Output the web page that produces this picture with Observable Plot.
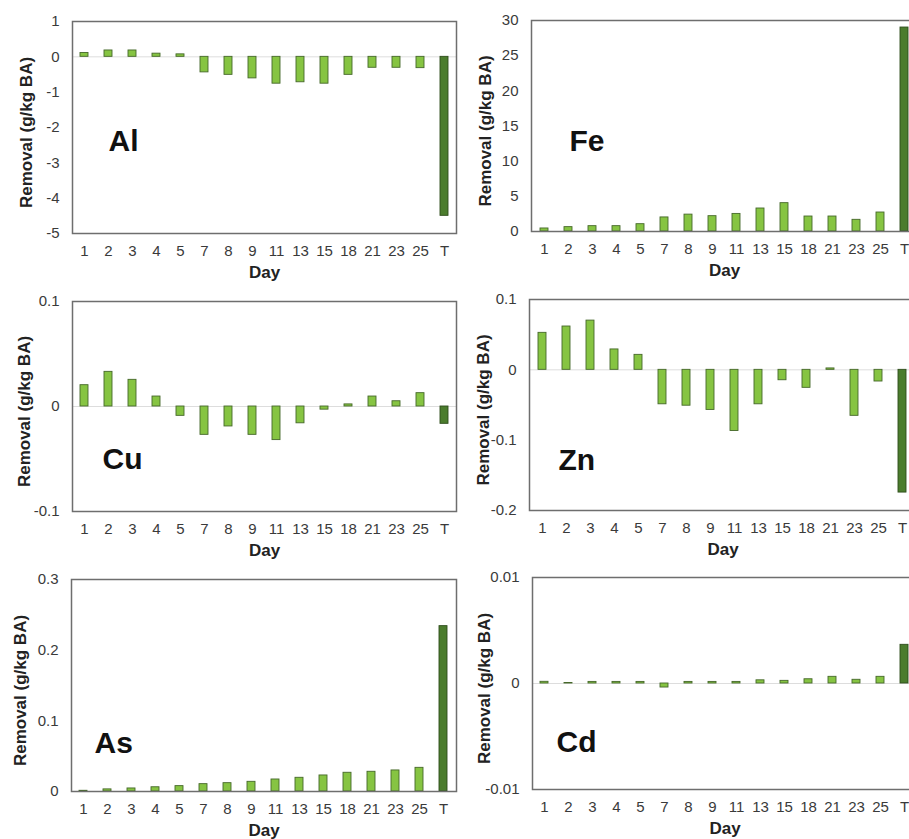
<!DOCTYPE html>
<html><head><meta charset="utf-8">
<script src="https://cdn.jsdelivr.net/npm/d3@7"></script>
<script src="https://cdn.jsdelivr.net/npm/@observablehq/plot@0.6"></script>
<style>
html,body{margin:0;padding:0;background:#fff;overflow:hidden;width:909px;height:839px;}
#root{position:relative;width:909px;height:839px;overflow:hidden;}
#root svg{position:absolute;overflow:visible;}
</style></head><body><div id="root"></div>
<script>
// ---- data ----
const days = ["1","2","3","4","5","7","8","9","11","13","15","18","21","23","25","T"];
const alValues = [0.11,0.18,0.18,0.09,0.07,-0.44,-0.51,-0.61,-0.76,-0.72,-0.76,-0.51,-0.31,-0.31,-0.32,-4.5];
const feValues = [0.43,0.62,0.76,0.76,1.04,2.0,2.4,2.18,2.5,3.27,4.03,2.13,2.13,1.66,2.7,29.0];
const cuValues = [0.0203,0.033,0.0254,0.0095,-0.0089,-0.027,-0.019,-0.027,-0.032,-0.016,-0.003,0.002,0.0095,0.005,0.0127,-0.0165];
const znValues = [0.0526,0.0616,0.070,0.029,0.0213,-0.049,-0.051,-0.057,-0.087,-0.049,-0.0148,-0.0256,0.002,-0.0654,-0.0166,-0.1745];
const asValues = [0.001,0.003,0.0043,0.006,0.0076,0.0104,0.0118,0.0137,0.017,0.0194,0.0227,0.0265,0.0279,0.0298,0.0335,0.234];
const cdValues = [0.00016,0.00005,0.00015,0.00015,0.00015,-0.00038,0.00015,0.00015,0.00015,0.0003,0.00025,0.0004,0.00063,0.00035,0.00063,0.00365];

const alTicks = [-5,-4,-3,-2,-1,0,1];
const feTicks = [0,5,10,15,20,25,30];
const cuTicks = [-0.1,0,0.1];
const znTicks = [-0.2,-0.1,0,0.1];
const asTicks = [0,0.1,0.2,0.3];
const cdTicks = [-0.01,0,0.01];

const elements = ["Al","Fe","Cu","Zn","As","Cd"];
const xLabel = "Day";
const yLabel = "Removal (g/kg BA)";

// ---- layout ----
const series = {Al: alValues, Fe: feValues, Cu: cuValues, Zn: znValues, As: asValues, Cd: cdValues};
const ticks = {Al: alTicks, Fe: feTicks, Cu: cuTicks, Zn: znTicks, As: asTicks, Cd: cdTicks};
const layout = {
  Al: {left:0,   top:0,   width:460, ml:72, mt:21, mb:47, ldx:-46, nx:36, ny:120},
  Fe: {left:450, top:0,   width:471, ml:81, mt:20, mb:49, ldx:-46, nx:38, ny:121},
  Cu: {left:0,   top:280, width:460, ml:72, mt:21, mb:49, ldx:-48, nx:30, ny:158},
  Zn: {left:450, top:280, width:470, ml:79, mt:19, mb:50, ldx:-46, nx:29, ny:161},
  As: {left:0,   top:559, width:460, ml:71, mt:20, mb:48, ldx:-51, nx:23, ny:164},
  Cd: {left:450, top:559, width:471, ml:82, mt:18, mb:50, ldx:-48, nx:24, ny:165}
};
const light = "#86c442", lightStroke = "#46682a";
const dark = "#4b7c2d", darkStroke = "#2e4d1c";

const root = document.getElementById("root");
for (const el of elements) {
  const L = layout[el];
  const data = days.map((d, i) => ({day: d, value: series[el][i]}));
  const yt = ticks[el];
  const chart = Plot.plot({
    width: L.width, height: 280,
    marginLeft: L.ml, marginRight: 4, marginTop: L.mt, marginBottom: L.mb,
    style: {fontFamily: "'Liberation Sans', Arial, Helvetica, sans-serif", fontSize: "15px", color: "#3a3a3a", background: "transparent"},
    x: {domain: days, paddingInner: 0.66, paddingOuter: 0.33, tickSize: 0, tickPadding: 12, label: null},
    y: {domain: [yt[0], yt[yt.length - 1]], ticks: yt, tickFormat: d => String(d), tickSize: 0, tickPadding: 13, label: null},
    marks: [
      Plot.ruleY([0], {stroke: "#dddddd", strokeWidth: 1}),
      Plot.barY(data, {x: "day", y: "value", filter: d => d.day !== "T", fill: light, stroke: lightStroke, strokeWidth: 0.9}),
      Plot.barY(data, {x: "day", y: "value", filter: d => d.day === "T", fill: dark, stroke: darkStroke, strokeWidth: 0.9}),
      Plot.frame({stroke: "#6e6e6e", strokeWidth: 1.5}),
      Plot.text([el], {text: d => d, frameAnchor: "top-left", dx: L.nx, dy: L.ny, textAnchor: "start", lineAnchor: "middle", fontSize: 30, fontWeight: "bold", fill: "#111"}),
      Plot.text([xLabel], {text: d => d, frameAnchor: "bottom", dy: 39, lineAnchor: "middle", fontSize: 17, fontWeight: "bold", fill: "#222"}),
      Plot.text([yLabel], {text: d => d, frameAnchor: "left", dx: L.ldx, dy: 5, rotate: -90, textAnchor: "middle", lineAnchor: "middle", fontSize: 17, fontWeight: "bold", fill: "#222"})
    ]
  });
  chart.style.left = L.left + "px";
  chart.style.top = L.top + "px";
  root.appendChild(chart);
}
</script>
</body></html>
